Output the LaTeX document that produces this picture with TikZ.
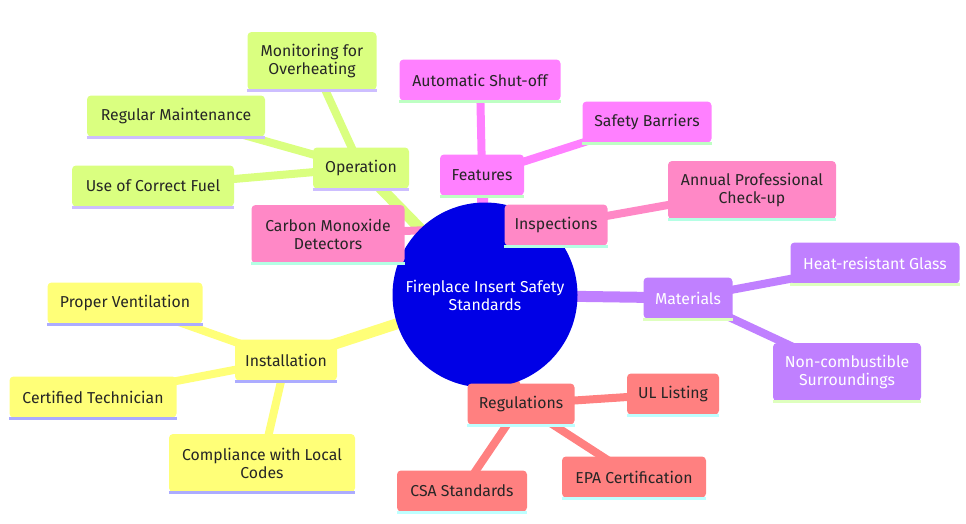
\documentclass[tikz,border=0pt]{standalone}
\usepackage{fontspec}
\setmainfont{Fira Sans}
\usetikzlibrary{backgrounds}
\definecolor{rootcol}{RGB}{0,0,230}
\definecolor{opcol}{RGB}{218,255,128}
\definecolor{opline}{RGB}{205,190,255}
\definecolor{featcol}{RGB}{255,128,255}
\definecolor{featline}{RGB}{190,255,195}
\definecolor{inspcol}{RGB}{255,136,198}
\definecolor{inspline}{RGB}{180,255,228}
\definecolor{matcol}{RGB}{192,128,255}
\definecolor{matline}{RGB}{222,255,190}
\definecolor{regcol}{RGB}{255,128,128}
\definecolor{regline}{RGB}{190,255,255}
\definecolor{instcol}{RGB}{255,255,120}
\definecolor{instline}{RGB}{172,172,255}

\begin{document}
\begin{tikzpicture}[x=1pt,y=-1pt,
  box/.style={rounded corners=4pt,minimum height=41pt,inner sep=2pt,align=center,
    font=\fontsize{15.8}{18}\selectfont,text=black!85},
  tall/.style={minimum height=58pt},
  root/.style={circle,fill=rootcol,minimum size=185pt,text=white,align=center,
    font=\fontsize{15.8}{18}\selectfont},
  main/.style={line width=11pt},
  sub/.style={line width=8pt},
  uline/.style={line width=3pt}
]
  \useasboundingbox (0,0) rectangle (966,523);
  % centre
  \node[root] (root) at (485,295) {Fireplace Insert Safety\\Standards};
  % Operation
  \node[box,fill=opcol,minimum width=96pt] (op) at (361,168) {Operation};
  \node[box,tall,fill=opcol,minimum width=129pt] (opMon) at (312,61) {Monitoring for\\Overheating};
  \node[box,fill=opcol,minimum width=178pt] (opMaint) at (176,116) {Regular Maintenance};
  \node[box,fill=opcol,minimum width=162pt] (opFuel) at (153,186) {Use of Correct Fuel};
  % Features
  \node[box,fill=featcol,minimum width=84pt] (feat) at (482,175) {Features};
  \node[box,fill=featcol,minimum width=161pt] (featShut) at (480,80) {Automatic Shut-off};
  \node[box,fill=featcol,minimum width=129pt] (featBar) at (647,122) {Safety Barriers};
  % Inspections
  \node[box,fill=inspcol,minimum width=103pt] (insp) at (556,225) {Inspections};
  \node[box,tall,fill=inspcol,minimum width=168pt] (inspAnnual) at (752,190) {Annual Professional\\Check-up};
  \node[box,tall,fill=inspcol,minimum width=153pt] (inspCO) at (328,234) {Carbon Monoxide\\Detectors};
  % Materials
  \node[box,fill=matcol,text=white,minimum width=89pt] (mat) at (688,298) {Materials};
  \node[box,fill=matcol,text=white,minimum width=169pt] (matGlass) at (875,263) {Heat-resistant Glass};
  \node[box,tall,fill=matcol,text=white,minimum width=148pt] (matSurr) at (847,372) {Non-combustible\\Surroundings};
  % Regulations
  \node[box,fill=regcol,minimum width=107pt] (reg) at (521,404) {Regulations};
  \node[box,fill=regcol,minimum width=92pt] (regUL) at (673,394) {UL Listing};
  \node[box,fill=regcol,minimum width=144pt] (regEPA) at (634,477) {EPA Certification};
  \node[box,fill=regcol,minimum width=130pt] (regCSA) at (462,491) {CSA Standards};
  % Installation
  \node[box,fill=instcol,minimum width=102pt] (inst) at (286,360) {Installation};
  \node[box,fill=instcol,minimum width=155pt] (instVent) at (125,303) {Proper Ventilation};
  \node[box,fill=instcol,minimum width=167pt] (instTech) at (93,397) {Certified Technician};
  \node[box,tall,fill=instcol,minimum width=186pt] (instCodes) at (262,463) {Compliance with Local\\Codes};
  % underlines
  \foreach \n/\c in {op/opline,opMon/opline,opMaint/opline,opFuel/opline,
      feat/featline,featShut/featline,featBar/featline,
      insp/inspline,inspAnnual/inspline,inspCO/inspline,
      mat/matline,matGlass/matline,matSurr/matline,
      reg/regline,regUL/regline,regEPA/regline,regCSA/regline,
      inst/instline,instVent/instline,instTech/instline,instCodes/instline}
    \draw[uline,\c] ([yshift=-0.5pt]\n.south west) -- ([yshift=-0.5pt]\n.south east);
  % edges
  \begin{scope}[on background layer]
    \draw[main,opcol] (root.center) -- (op.center);
    \draw[sub,opcol] (op.center) -- (opMon.center);
    \draw[sub,opcol] (op.center) -- (opMaint.center);
    \draw[sub,opcol] (op.center) -- (opFuel.center);
    \draw[main,featcol] (root.center) -- (feat.center);
    \draw[sub,featcol] (feat.center) -- (featShut.center);
    \draw[sub,featcol] (feat.center) -- (featBar.center);
    \draw[main,inspcol] (root.center) -- (insp.center);
    \draw[sub,inspcol] (insp.center) -- (inspAnnual.center);
    \draw[sub,inspcol] (insp.center) -- (inspCO.center);
    \draw[main,matcol] (root.center) -- (mat.center);
    \draw[sub,matcol] (mat.center) -- (matGlass.center);
    \draw[sub,matcol] (mat.center) -- (matSurr.center);
    \draw[main,regcol] (root.center) -- (reg.center);
    \draw[sub,regcol] (reg.center) -- (regUL.center);
    \draw[sub,regcol] (reg.center) -- (regEPA.center);
    \draw[sub,regcol] (reg.center) -- (regCSA.center);
    \draw[main,instcol] (root.center) -- (inst.center);
    \draw[sub,instcol] (inst.center) -- (instVent.center);
    \draw[sub,instcol] (inst.center) -- (instTech.center);
    \draw[sub,instcol] (inst.center) -- (instCodes.center);
  \end{scope}
\end{tikzpicture}
\end{document}
